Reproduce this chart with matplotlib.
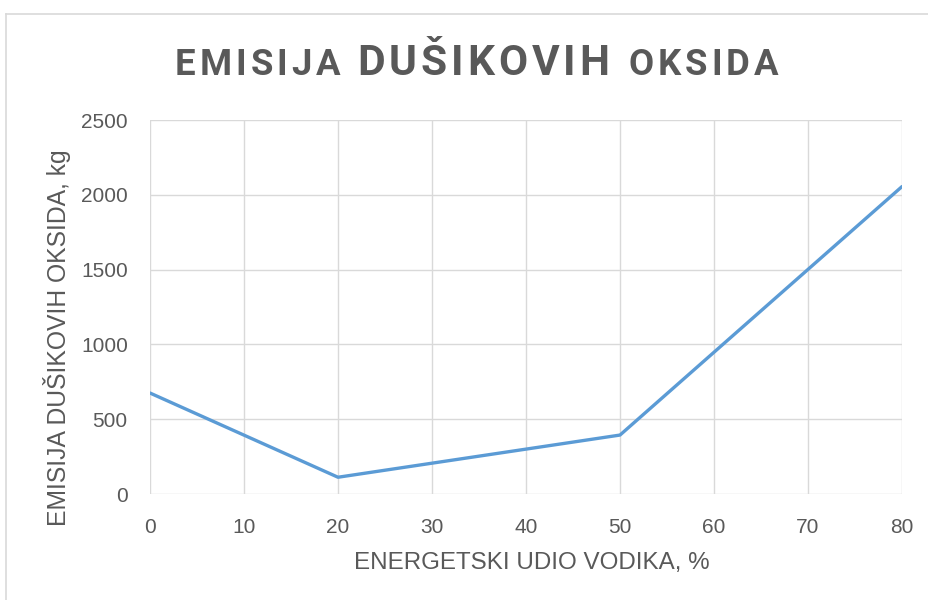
import matplotlib
matplotlib.use("Agg")
from matplotlib import pyplot as plt
from matplotlib.lines import Line2D

# hydrogen energy share (%) vs NOx emission (kg)
udio_vodika = [0, 20, 50, 80]
emisija_nox = [675, 112, 394, 2055]
x_ticks = [0, 10, 20, 30, 40, 50, 60, 70, 80]
y_ticks = [0, 500, 1000, 1500, 2000, 2500]

W, H = 929, 600
fig = plt.figure(figsize=(W / 100, H / 100), dpi=100)
ax = fig.add_axes([150 / W, 1 - 494 / H, 752 / W, 374 / H])

grid_c = "#d9d9d9"
text_c = "#595959"

ax.plot(udio_vodika, emisija_nox, color="#5b9bd5", lw=2.4, solid_capstyle="round", zorder=3)

ax.set_xlim(0, 80)
ax.set_ylim(0, 2500)
ax.set_xticks(x_ticks)
ax.set_yticks(y_ticks)
ax.grid(True, color=grid_c, lw=1.0)
for s in ax.spines.values():
    s.set_visible(False)
ax.tick_params(length=0, labelsize=15, labelcolor=text_c)
ax.tick_params(axis="x", pad=17)
ax.tick_params(axis="y", pad=16)
for lab in ax.get_xticklabels() + ax.get_yticklabels():
    lab.set_family("Liberation Sans")

fig.text(532 / W, 1 - 563 / H, "ENERGETSKI UDIO VODIKA, %", ha="center", va="center",
         fontsize=17.4, color=text_c, family="Liberation Sans")
fig.text(57 / W, 1 - 338 / H, "EMISIJA DUŠIKOVIH OKSIDA, kg", ha="center", va="center",
         rotation=90, fontsize=17.8, color=text_c, family="Liberation Sans")

# title in mixed caps sizes with letter tracking, placed glyph by glyph
parts = [("EMISIJA ", 26.3), ("DUŠIKOVIH ", 30.5), ("OKSIDA", 26.3)]
title_left, title_right = 175, 778
renderer = fig.canvas.get_renderer()
glyphs = []
for s, fs in parts:
    for ch in s:
        t = fig.text(0, 0.5, ch, ha="left", va="baseline", fontsize=fs,
                     fontweight="bold", color=text_c, family="Roboto")
        if ch == " ":
            w = fs * 0.25 * 100 / 72
        else:
            w = t.get_window_extent(renderer).width
        glyphs.append((t, w))
tracking = (title_right - title_left - sum(w for _, w in glyphs)) / (len(glyphs) - 1)
x0 = title_left
base_y = 1 - 75 / H
for t, w in glyphs:
    t.set_position((x0 / W, base_y))
    x0 += w + tracking

# outer chart frame
fig.add_artist(Line2D([6 / W, 6 / W], [0, 1 - 14 / H], color=grid_c, lw=1.2))
fig.add_artist(Line2D([6 / W, 1], [1 - 14 / H, 1 - 14 / H], color=grid_c, lw=1.2))

fig.savefig("out.png", dpi=100)
